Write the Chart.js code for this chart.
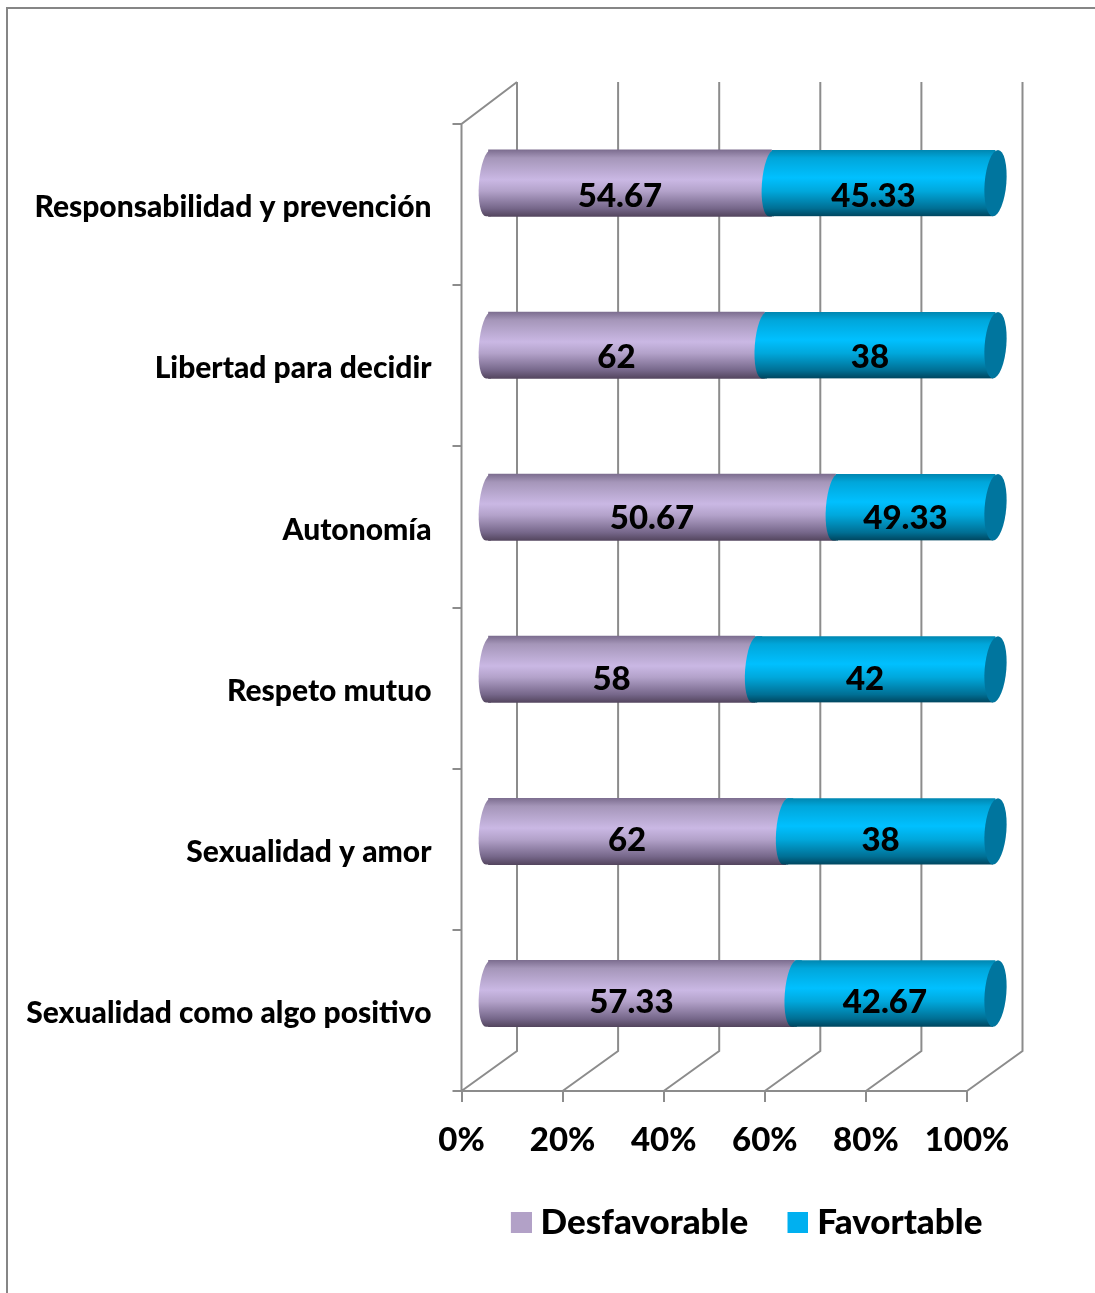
<!DOCTYPE html>
<html>
<head>
<meta charset="utf-8">
<title>Actitudes</title>
<script src="https://cdn.jsdelivr.net/npm/chart.js@4"></script>
<style>
    html, body { margin: 0; padding: 0; background: #fff; }
    canvas { display: block; }
</style>
</head>
<body>
<canvas id="chart" width="1095" height="1293"></canvas>
<script>
const categories = [
    'Responsabilidad y prevención',
    'Libertad para decidir',
    'Autonomía',
    'Respeto mutuo',
    'Sexualidad y amor',
    'Sexualidad como algo positivo'
];

// bar lengths as measured on the picture, they do not follow the printed numbers
const desfavorable = [55.9, 54.5, 68.5, 52.6, 58.7, 60.4];
const favorable = [44.1, 45.5, 31.5, 47.4, 41.3, 39.6];

// numbers printed on the bars
const desfavorableLabels = ['54.67', '62', '50.67', '58', '62', '57.33'];
const favorableLabels = ['45.33', '38', '49.33', '42', '38', '42.67'];

const xTickLabels = ['0%', '20%', '40%', '60%', '80%', '100%'];
const seriesNames = ['Desfavorable', 'Favortable'];

const FONT = 'Lato';
const WEIGHT = '900';
const GREY = '#8c8c8c';
const DEPTH_X = 55.5;     // back wall offset
// bars stand halfway between front and back, on a slightly larger plane
const BAR_SCALE_X = 1.00494;
const BAR_SHIFT_X = 23.72;
const BAR_SCALE_Y = 1.0056;
const BAR_SHIFT_Y = -22.6;
const BULGE_RX = 9.5;
const END_RX = 10.8;
const CAP_SHEAR = -0.076;

const purpleStops = [[0, '#7d6e90'], [0.12, '#a596b9'], [0.45, '#cab8e4'], [0.62, '#b3a2ca'], [0.88, '#76678a'], [1, '#54465f']];
const blueStops = [[0, '#0086b0'], [0.12, '#00a6da'], [0.42, '#00c0ff'], [0.62, '#00a8dc'], [0.88, '#006f94'], [1, '#00465f']];

function makeGradient(ctx, top, bottom, stops) {
    const g = ctx.createLinearGradient(0, top, 0, bottom);
    stops.forEach(s => g.addColorStop(s[0], s[1]));
    return g;
}

function barFill(stops, fallback) {
    return c => {
        const chart = c.chart;
        if (!chart.chartArea || c.dataIndex === undefined) return fallback;
        const y = chart.scales.y.getPixelForValue(c.dataIndex);
        return makeGradient(chart.ctx, y - 33, y + 33, stops);
    };
}

function shiftBars(ctx) {
    ctx.transform(BAR_SCALE_X, 0, 0, BAR_SCALE_Y, BAR_SHIFT_X, BAR_SHIFT_Y);
}

// rounded start of a cylinder piece, runs a few px under the body to hide the seam
function drawBulge(ctx, x, y, h, fill) {
    ctx.save();
    ctx.translate(x, y);
    ctx.transform(1, 0, CAP_SHEAR, 1, 0, 0);
    ctx.beginPath();
    ctx.ellipse(0, 0, BULGE_RX, h / 2, 0, Math.PI / 2, Math.PI * 1.5);
    ctx.lineTo(5, -h / 2);
    ctx.lineTo(5, h / 2);
    ctx.closePath();
    ctx.fillStyle = fill;
    ctx.fill();
    ctx.restore();
}

function drawEnd(ctx, x, y, h, fill) {
    ctx.save();
    ctx.translate(x, y);
    ctx.transform(1, 0, CAP_SHEAR, 1, 0, 0);
    ctx.beginPath();
    ctx.ellipse(0, 0, END_RX, h / 2, 0, 0, Math.PI * 2);
    ctx.fillStyle = fill;
    ctx.fill();
    ctx.restore();
}

// legend square sits in the right part of a wider image so the text comes closer to it
function legendSwatch(color) {
    const c = document.createElement('canvas');
    c.width = 30;
    c.height = 21;
    const g = c.getContext('2d');
    g.fillStyle = color;
    g.fillRect(9, 0, 21, 21);
    return c;
}

const cylinderPlugin = {
    id: 'cylinder',
    beforeDraw(chart) {
        // outer frame of the picture
        const ctx = chart.ctx;
        ctx.save();
        ctx.strokeStyle = '#868686';
        ctx.lineWidth = 2;
        ctx.beginPath();
        ctx.moveTo(7, 1293);
        ctx.lineTo(7, 8);
        ctx.lineTo(1095, 8);
        ctx.stroke();
        ctx.restore();
    },
    beforeDatasetsDraw(chart) {
        // walls and floor
        const ctx = chart.ctx;
        const x = chart.scales.x;
        const a = chart.chartArea;
        const backTop = a.top - 42;
        const backBottom = a.bottom - 40;
        ctx.save();
        ctx.strokeStyle = GREY;
        ctx.lineWidth = 2;
        ctx.beginPath();
        x.ticks.forEach(t => {
            const px = x.getPixelForValue(t.value);
            ctx.moveTo(px + DEPTH_X, backTop);
            ctx.lineTo(px + DEPTH_X, backBottom);
            ctx.lineTo(px, a.bottom);
        });
        ctx.moveTo(a.left + DEPTH_X, backTop);
        ctx.lineTo(a.left, a.top);
        ctx.lineTo(a.left, a.bottom);
        ctx.lineTo(a.right, a.bottom);
        ctx.stroke();
        ctx.restore();
    },
    beforeDatasetDraw(chart, args) {
        const ctx = chart.ctx;
        ctx.save();
        shiftBars(ctx);
        // the far end is cut along the tilted cylinder end
        if (args.index === 1) {
            ctx.beginPath();
            args.meta.data.forEach(el => {
                const top = el.y - el.height / 2;
                const bottom = el.y + el.height / 2;
                const d = CAP_SHEAR * el.height / 2;
                ctx.moveTo(el.base, top);
                ctx.lineTo(el.x - d, top);
                ctx.lineTo(el.x + d, bottom);
                ctx.lineTo(el.base, bottom);
                ctx.closePath();
            });
            ctx.clip();
        }
    },
    afterDatasetDraw(chart) {
        chart.ctx.restore();
    },
    afterDatasetsDraw(chart) {
        const ctx = chart.ctx;
        const purple = chart.getDatasetMeta(0).data;
        const blue = chart.getDatasetMeta(1).data;
        ctx.save();
        shiftBars(ctx);
        purple.forEach((el, i) => {
            const h = el.height;
            const b = blue[i];
            drawBulge(ctx, el.base, el.y, h, makeGradient(ctx, -h / 2, h / 2, purpleStops));
            drawBulge(ctx, b.base, b.y, h, makeGradient(ctx, -h / 2, h / 2, blueStops));
            drawEnd(ctx, b.x, b.y, h, '#00759e');
        });
        ctx.restore();

        // the printed numbers keep the axis spacing, not the bars' spacing
        const mid = (a, b) => (a + b) / 2 * BAR_SCALE_X + BAR_SHIFT_X - 10;
        ctx.save();
        ctx.font = WEIGHT + ' 33px ' + FONT;
        ctx.fillStyle = '#000';
        ctx.textAlign = 'center';
        ctx.textBaseline = 'middle';
        purple.forEach((el, i) => {
            const b = blue[i];
            const y = el.y - 8.5;
            ctx.fillText(desfavorableLabels[i], mid(el.base, el.x), y);
            ctx.fillText(favorableLabels[i], mid(b.base, b.x), y);
        });
        ctx.restore();
    },
    afterLayout(chart) {
        // legend sits under the plot, not centred on the page
        const l = chart.legend;
        l.left += 263;
        l.right += 263;
        l.top -= 9;
        l.bottom -= 9;
    }
};

new Chart(document.getElementById('chart'), {
    type: 'bar',
    data: {
        labels: categories,
        datasets: [{
            label: seriesNames[0],
            data: desfavorable,
            backgroundColor: barFill(purpleStops, '#b2a1c7'),
            borderWidth: 0
        }, {
            label: seriesNames[1],
            data: favorable,
            backgroundColor: barFill(blueStops, '#00b0f0'),
            borderWidth: 0
        }]
    },
    plugins: [cylinderPlugin],
    options: {
        indexAxis: 'y',
        responsive: false,
        animation: false,
        devicePixelRatio: 1,
        barThickness: 66,
        layout: { padding: { top: 124, right: 128, bottom: 34, left: 0 } },
        scales: {
            x: {
                stacked: true,
                min: 0,
                max: 100,
                afterFit: s => { s.height = 84; },
                ticks: {
                    stepSize: 20,
                    maxRotation: 0,
                    padding: 19,
                    color: '#000',
                    font: { family: FONT, size: 33, weight: WEIGHT },
                    callback: (v, i) => xTickLabels[i]
                },
                grid: { drawOnChartArea: false, color: GREY, lineWidth: 2, tickLength: 11 },
                border: { display: false }
            },
            y: {
                stacked: true,
                afterFit: s => { s.width = 461.5; },
                ticks: {
                    padding: 21,
                    labelOffset: 3,
                    color: '#000',
                    font: { family: FONT, size: 30, weight: WEIGHT }
                },
                grid: { offset: true, drawOnChartArea: false, color: GREY, lineWidth: 2, tickLength: 9 },
                border: { display: false }
            }
        },
        plugins: {
            tooltip: { enabled: false },
            legend: {
                position: 'bottom',
                labels: {
                    usePointStyle: true,
                    pointStyleWidth: 12.5,
                    boxHeight: 21,
                    padding: 39,
                    color: '#000',
                    font: { family: FONT, size: 35, weight: WEIGHT },
                    generateLabels: () => [
                        { text: seriesNames[0], fillStyle: '#b2a1c7', strokeStyle: '#b2a1c7', lineWidth: 0, pointStyle: legendSwatch('#b2a1c7') },
                        { text: seriesNames[1], fillStyle: '#00b0f0', strokeStyle: '#00b0f0', lineWidth: 0, pointStyle: legendSwatch('#00b0f0') }
                    ]
                }
            }
        }
    }
});
</script>
</body>
</html>
